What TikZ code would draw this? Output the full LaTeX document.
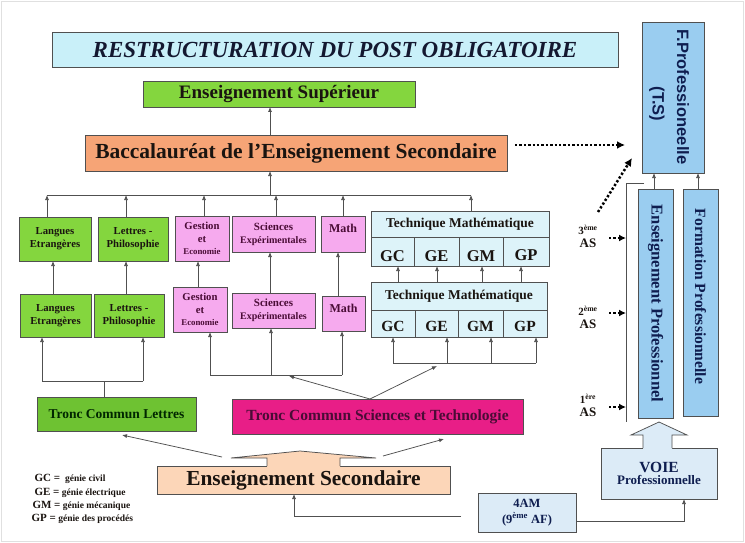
\documentclass[tikz,border=0pt]{standalone}
\usepackage{fontspec}
\setmainfont{Liberation Serif}
\newfontfamily\arialf{Liberation Sans}
\usetikzlibrary{arrows.meta,calc}
\newcommand\myfs[2]{\fontsize{#1}{#2}\selectfont}
\definecolor{cTitle}{HTML}{C9F0F9}
\definecolor{cGreen}{HTML}{84D63E}
\definecolor{cGreenD}{HTML}{6EC232}
\definecolor{cOrange}{HTML}{F6A476}
\definecolor{cPink}{HTML}{F6AAEE}
\definecolor{cMagenta}{HTML}{E81E87}
\definecolor{cTech}{HTML}{DDF3F9}
\definecolor{cBlue}{HTML}{9ACDF0}
\definecolor{cLBlue}{HTML}{DCEBF7}
\definecolor{cPeach}{HTML}{FCD6B8}
\definecolor{tNavy}{HTML}{0F1E50}
\definecolor{tTitle}{HTML}{141830}
\definecolor{tMaroon}{HTML}{4A0C36}
\definecolor{tDark}{HTML}{1A1410}
\definecolor{cLine}{HTML}{505050}
\begin{document}
\begin{tikzpicture}[x=1pt,y=-1pt,
  box/.style={draw=cLine, line width=0.75pt, inner sep=1pt, outer sep=0pt, align=center, text=tDark},
  gbox/.style={box, fill=cGreen, font=\myfs{10.7}{13}\bfseries},
  pbox/.style={box, fill=cPink, text=tMaroon},
  tbox/.style={box, fill=cTech},
  bbox/.style={box, fill=cBlue},
  ln/.style={draw=cLine, line width=0.75pt},
  arr/.style={draw=cLine, line width=0.75pt, -{Latex[length=5pt,width=4pt]}},
  dotarr/.style={draw=black, line width=2.5pt, dash pattern=on 2.3pt off 2.1pt, -{Latex[length=8pt,width=8pt]}},
  sdot/.style={draw=black, line width=2.2pt, dash pattern=on 2.2pt off 2.2pt, -{Latex[length=7pt,width=7pt]}},
  lbl/.style={align=center, text=tDark, font=\bfseries}
]
\useasboundingbox[fill=white] (0,0) rectangle (745,543);
\draw[black!12] (1.5,1.5) rectangle (743.5,541.5);

% top
\node[box, fill=cTitle, minimum width=566, minimum height=35, text=tTitle, font=\myfs{23}{26}\bfseries\itshape] (title) at (335,49.5) {RESTRUCTURATION DU POST OBLIGATOIRE};
\node[box, fill=cGreen, minimum width=272, minimum height=26, font=\myfs{19}{21}\bfseries] (sup) at (279,94) {Enseignement Supérieur};
\node[box, fill=cOrange, minimum width=422, minimum height=36, font=\myfs{21.5}{24}\bfseries] (bac) at (296,153) {Baccalauréat de l’Enseignement Secondaire};

% upper row
\node[gbox, minimum width=72, minimum height=44] (lang1) at (55,239) {Langues\\Etrangères};
\node[gbox, minimum width=70, minimum height=44] (lett1) at (133,239) {Lettres -\\Philosophie};
\node[pbox, minimum width=54, minimum height=45, font=\myfs{10.7}{12.5}\bfseries] (gest1) at (202,238.5) {Gestion\\et\\{\myfs{8.8}{10}Economie}};
\node[pbox, minimum width=83, minimum height=36, font=\myfs{11}{13}\bfseries] (sci1) at (273.5,234) {Sciences\\{\myfs{10}{12}Expérimentales}};
\node[pbox, minimum width=44, minimum height=36, font=\myfs{12}{14}\bfseries] (math1) at (343,234) {\raisebox{6pt}[\height][\depth]{Math}};
\node[tbox, minimum width=178, minimum height=26, font=\myfs{13.5}{15}\bfseries] (t1h) at (460,224) {Technique Mathématique};
\node[tbox, minimum width=43, minimum height=29, font=\myfs{16.5}{18}\bfseries] (t1gc) at (392.5,251.5) {\raisebox{-5pt}[\height][\depth]{GC}};
\node[tbox, minimum width=45, minimum height=29, font=\myfs{16.5}{18}\bfseries] (t1ge) at (436.5,251.5) {\raisebox{-5pt}[\height][\depth]{GE}};
\node[tbox, minimum width=44, minimum height=29, font=\myfs{16.5}{18}\bfseries] (t1gm) at (481,251.5) {\raisebox{-5pt}[\height][\depth]{GM}};
\node[tbox, minimum width=46, minimum height=29, font=\myfs{16.5}{18}\bfseries] (t1gp) at (526,251.5) {\raisebox{-4pt}[\height][\depth]{GP}};

% lower row
\node[gbox, minimum width=71, minimum height=43] (lang2) at (55.5,315.5) {Langues\\Etrangères};
\node[gbox, minimum width=70, minimum height=43] (lett2) at (129,315.5) {Lettres -\\Philosophie};
\node[pbox, minimum width=54, minimum height=45, font=\myfs{10.7}{12.5}\bfseries] (gest2) at (200,309.5) {Gestion\\et\\{\myfs{8.8}{10}Economie}};
\node[pbox, minimum width=83, minimum height=35, font=\myfs{11}{13}\bfseries] (sci2) at (273.5,310.5) {Sciences\\{\myfs{10}{12}Expérimentales}};
\node[pbox, minimum width=43, minimum height=35, font=\myfs{12}{14}\bfseries] (math2) at (343.5,313.5) {\raisebox{5pt}[\height][\depth]{Math}};
\node[tbox, minimum width=176, minimum height=28, font=\myfs{13.5}{15}\bfseries] (t2h) at (459,296) {Technique Mathématique};
\node[tbox, minimum width=44, minimum height=27, font=\myfs{15.5}{17}\bfseries] (t2gc) at (393,323.5) {\raisebox{-3pt}[\height][\depth]{GC}};
\node[tbox, minimum width=43, minimum height=27, font=\myfs{15.5}{17}\bfseries] (t2ge) at (436.5,323.5) {\raisebox{-3pt}[\height][\depth]{GE}};
\node[tbox, minimum width=45, minimum height=27, font=\myfs{15.5}{17}\bfseries] (t2gm) at (480.5,323.5) {\raisebox{-3pt}[\height][\depth]{GM}};
\node[tbox, minimum width=44, minimum height=27, font=\myfs{15.5}{17}\bfseries] (t2gp) at (525,323.5) {\raisebox{-3pt}[\height][\depth]{GP}};

% troncs communs
\node[box, fill=cGreenD, minimum width=159, minimum height=34, font=\myfs{13.5}{15}\bfseries, text=black!85!green] (tcl) at (116.5,414) {Tronc Commun Lettres};
\node[box, fill=cMagenta, minimum width=291, minimum height=35, font=\myfs{15.5}{17}\bfseries, text=tMaroon] (tcs) at (377.5,416.5) {Tronc Commun Sciences et Technologie};

% enseignement secondaire + block arrow
\node[box, fill=cPeach, minimum width=293, minimum height=28, font=\myfs{21.4}{24}\bfseries] (enssec) at (303.5,480) {Enseignement Secondaire};
\fill[cPeach] (267,467) -- (267,458) -- (231,458) -- (300,451) -- (376,458) -- (340,458) -- (340,467) -- cycle;
\draw[ln, line join=miter] (267,466) -- (267,458) -- (231,458) -- (300,451) -- (376,458) -- (340,458) -- (340,466);

\node[box, fill=cLBlue, minimum width=98, minimum height=39, font=\myfs{12.5}{16}\bfseries, text=tNavy] (am) at (527,512.5) {4AM\\(9\textsuperscript{ème} AF)};

% legend
\node[anchor=west, lbl] (lgc) at (31,479) {{\myfs{11}{13}GC =}\enspace{\myfs{9.5}{11}génie civil}};
\node[anchor=west, lbl] (lge) at (31,493) {{\myfs{11}{13}GE =}\ {\myfs{9.5}{11}génie électrique}};
\node[anchor=west, lbl] (lgm) at (29,506) {{\myfs{11}{13}GM =}\ {\myfs{9.5}{11}génie mécanique}};
\node[anchor=west, lbl] (lgp) at (28,519) {{\myfs{11}{13}GP =}\ {\myfs{9.5}{11}génie des procédés}};

% right column
\node[bbox, minimum width=62, minimum height=151] (fprof) at (673,97.5) {};
\node[rotate=-90, text=tNavy, font=\arialf\bfseries\myfs{16.5}{18}] (fpt1) at (683,97) {F.Professioneelle};
\node[rotate=-90, text=tNavy, font=\arialf\bfseries\myfs{16.5}{18}] (fpt2) at (657,104) {(T.S)};
\node[bbox, minimum width=35, minimum height=229] (ensprof) at (655.5,303.5) {};
\node[rotate=-90, text=tNavy, font=\myfs{16.5}{18}\bfseries] (ensprt) at (ensprof.center) {Enseignement Professionnel};
\node[bbox, minimum width=35, minimum height=227] (formprof) at (700.5,302.5) {};
\node[rotate=-90, text=tNavy, font=\myfs{15.6}{18}\bfseries] (formprt) at ([yshift=6pt]formprof.center) {Formation Professionnelle};

\node[box, fill=cLBlue, minimum width=116, minimum height=51, text=tNavy] (voie) at (659,473.5) {{\myfs{15.5}{18}\bfseries VOIE}\\{\myfs{13}{15}\bfseries Professionnelle}};
\fill[cLBlue] (643,449) -- (643,435) -- (631,435) -- (659,422) -- (687,435) -- (672,435) -- (672,449) -- cycle;
\draw[ln, line join=miter] (643,448) -- (643,435) -- (631,435) -- (659,422) -- (687,435) -- (672,435) -- (672,448);

\node[lbl] (y3) at (588,236) {{\myfs{11}{12}3\textsuperscript{ème}}\\[1pt]{\myfs{13}{14}AS}};
\node[lbl] (y2) at (588,317.5) {{\myfs{11}{12}2\textsuperscript{ème}}\\[1pt]{\myfs{13}{14}AS}};
\node[lbl] (y1) at (588,405) {{\myfs{11}{12}1\textsuperscript{ère}}\\[1pt]{\myfs{13}{14}AS}};

% coordinates
\coordinate (b1) at (47,195);  \coordinate (b2) at (126,195); \coordinate (b3) at (204,195);
\coordinate (b4) at (276,195); \coordinate (b5) at (343,195); \coordinate (b6) at (471,195);
\coordinate (bC) at (270,195);
\coordinate (v1) at (53,0); \coordinate (v2) at (126,0); \coordinate (v3) at (198,0);
\coordinate (v4) at (270,0); \coordinate (v5) at (338,0);
\coordinate (w1) at (398,0); \coordinate (w2) at (437,0); \coordinate (w3) at (482,0); \coordinate (w4) at (521,0);
\coordinate (lbL) at (42,381); \coordinate (lbR) at (143,381); \coordinate (lbS) at (104,381);
\coordinate (sbL) at (210,375); \coordinate (sbM) at (271,375); \coordinate (sbR) at (342,375);
\coordinate (tb1) at (393,363); \coordinate (tb2) at (447,363); \coordinate (tb3) at (491,363); \coordinate (tb4) at (536,363);
\coordinate (tcsx) at (370,0);
\coordinate (tsA) at (289,376); \coordinate (tsB) at (437,366);
\coordinate (esA) at (222,457); \coordinate (tclP) at (122,435);
\coordinate (esB) at (383,456); \coordinate (tcsP) at (444,439);
\coordinate (amL) at (461,516); \coordinate (esx) at (294,0);
\coordinate (amRy) at (0,521); \coordinate (vx) at (684,0);
\coordinate (brT) at (644,183); \coordinate (brC) at (626,183); \coordinate (brB) at (626,422);
\coordinate (fp1) at (654,0); \coordinate (fp2) at (698,0);
\coordinate (d3) at (609,238); \coordinate (d2) at (609,313); \coordinate (d1) at (609,407);
\coordinate (dA) at (625,145); \coordinate (dB0) at (598,212); \coordinate (dB1) at (632,158);

% top connectors
\draw[ln] (b1) -- (b6);
\foreach \n/\p in {lang1/b1, lett1/b2, gest1/b3, sci1/b4, math1/b5, t1h/b6}
  \draw[arr] (\n.north -| \p) -- (\p);
\draw[arr] (bC) -- (bac.south -| bC);
\draw[arr] (bac.north -| bC) -- (sup.south -| bC);

% between rows
\draw[arr] (lang2.north -| v1) -- (lang1.south -| v1);
\draw[arr] (lett2.north -| v2) -- (lett1.south -| v2);
\draw[arr] (gest2.north -| v3) -- (gest1.south -| v3);
\draw[arr] (sci2.north -| v4) -- (sci1.south -| v4);
\draw[arr] (math2.north -| v5) -- (math1.south -| v5);
\draw[arr] (t2h.north -| w1) -- (t1gc.south -| w1);
\draw[arr] (t2h.north -| w2) -- (t1ge.south -| w2);
\draw[arr] (t2h.north -| w3) -- (t1gm.south -| w3);
\draw[arr] (t2h.north -| w4) -- (t1gp.south -| w4);

% brackets from troncs
\draw[ln] (tcl.north -| lbS) -- (lbS);
\draw[ln] (lbL) -- (lbR);
\draw[arr] (lbL) -- (lang2.south -| lbL);
\draw[arr] (lbR) -- (lett2.south -| lbR);
\draw[ln] (sbL) -- (sbR);
\draw[arr] (sbL) -- (gest2.south -| sbL);
\draw[arr] (sbM) -- (sci2.south -| sbM);
\draw[arr] (sbR) -- (math2.south -| sbR);
\draw[ln] (tb1) -- (tb4);
\draw[arr] (tb1) -- (t2gc.south -| tb1);
\draw[arr] (tb2) -- (t2ge.south -| tb2);
\draw[arr] (tb3) -- (t2gm.south -| tb3);
\draw[arr] (tb4) -- (t2gp.south -| tb4);
\draw[arr] (tcs.north -| tcsx) -- (tsA);
\draw[arr] (tcs.north -| tcsx) -- (tsB);

% from enseignement secondaire
\draw[arr] (esA) -- (tclP);
\draw[arr] (esB) -- (tcsP);
\draw[arr] (amL) -| (enssec.south -| esx);
\draw[arr] (am.east |- amRy) -| (voie.south -| vx);

% right column connectors
\draw[ln] (brT) -- (brC) -- (brB);
\draw[arr] (ensprof.north -| fp1) -- (fprof.south -| fp1);
\draw[arr] (formprof.north -| fp2) -- (fprof.south -| fp2);
\draw[sdot] (d3) -- (d3 -| brC);
\draw[sdot] (d2) -- (d2 -| brC);
\draw[sdot] (d1) -- (d1 -| brC);
\draw[dotarr] ([xshift=8pt,yshift=8pt]bac.east) -- (dA);
\draw[dotarr] (dB0) -- (dB1);
\end{tikzpicture}
\end{document}
